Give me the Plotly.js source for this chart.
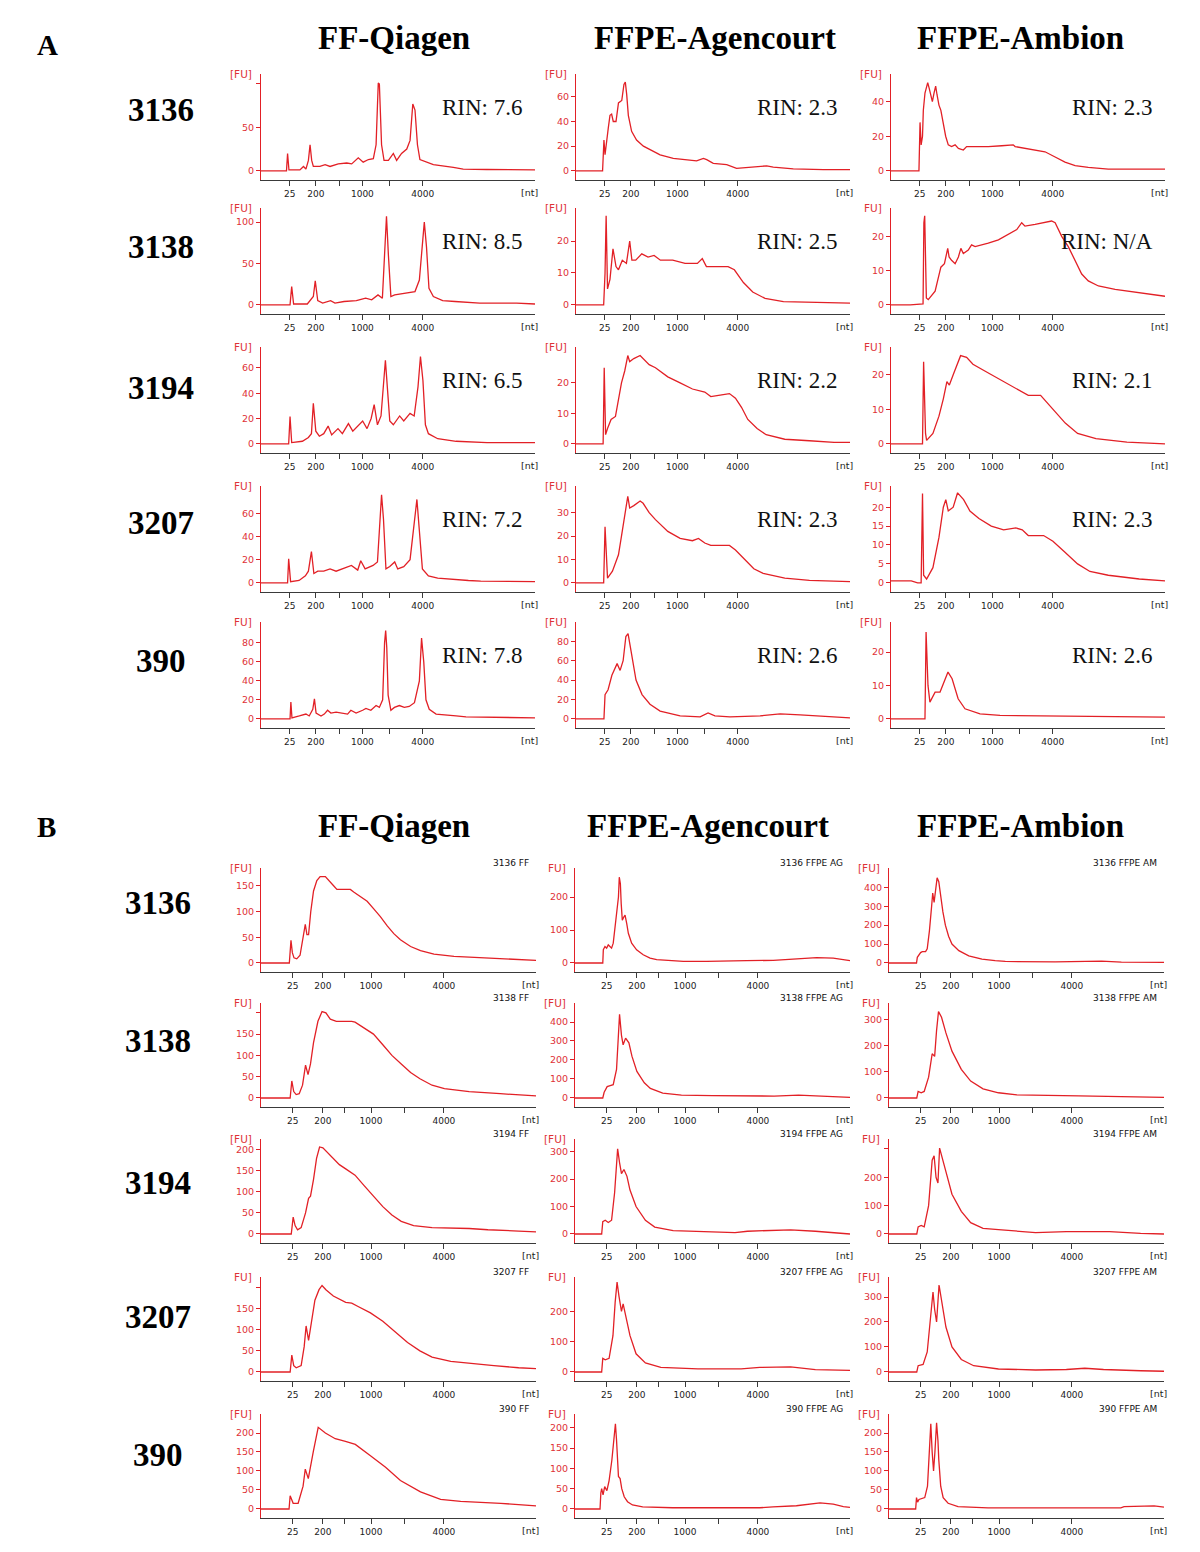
<!DOCTYPE html>
<html><head><meta charset="utf-8">
<script src="https://cdn.plot.ly/plotly-3.0.1.min.js"></script>
<style>body{margin:0;background:#fff}#chart{width:1200px;height:1552px}</style>
</head><body><div id="chart"></div>
<script>
// ---------- labels ----------
const samples = ['3136','3138','3194','3207','390'];
const methods = ['FF-Qiagen','FFPE-Agencourt','FFPE-Ambion'];
const methodCodes = ['FF','FFPE AG','FFPE AM'];
const rinA = [['7.6','2.3','2.3'],['8.5','2.5','N/A'],['6.5','2.2','2.1'],['7.2','2.3','2.3'],['7.8','2.6','2.6']];
const xTickText = ['25','200','','1000','','4000'];
const fuA = [['[FU]','[FU]','[FU]'],['[FU]','[FU]','FU]'],['FU]','[FU]','FU]'],['FU]','[FU]','FU]'],['FU]','[FU]','[FU]']];
const fuB = [['[FU]','FU]','[FU]'],['FU]','[FU]','FU]'],['[FU]','[FU]','FU]'],['FU]','FU]','[FU]'],['[FU]','FU]','[FU]']];

// ---------- y ticks (values / labels) ----------
const yTicksA = [
 [[0,50,100],[0,20,40,60],[0,20,40]],
 [[0,50,100],[0,10,20],[0,10,20]],
 [[0,20,40,60],[0,10,20],[0,10,20]],
 [[0,20,40,60],[0,10,20,30],[0,5,10,15,20]],
 [[0,20,40,60,80],[0,20,40,60,80],[0,10,20]]];
const yTickHiddenA = [[[100],[],[]],[[],[],[]],[[],[],[]],[[],[],[]],[[],[],[]]];
const yTopA = [[111.5,78.5,56],[117,30.4,28.3],[76.5,31.8,28],[83.6,41.4,25.6],[102,100,29]];
const yTicksB = [
 [[0,50,100,150],[0,100,200],[0,100,200,300,400]],
 [[0,50,100,150,200],[0,100,200,300,400],[0,100,200,300]],
 [[0,50,100,150,200],[0,100,200,300],[0,100,200,300]],
 [[0,50,100,150,200],[0,100,200],[0,100,200,300]],
 [[0,50,100,150,200],[0,50,100,150,200],[0,50,100,150,200]]];
const yTickHiddenB = [[[],[],[]],[[200],[],[]],[[],[],[300]],[[200],[],[]],[[],[],[]]];
const yTopB = [[184.6,288,502],[223,500,365],[226,346,335],[225,314,380],[250,234,250]];

// ---------- traces: x = position along axis (%), y = fluorescence [FU] ----------
// A
const a_3136_ff_x=[0,9.3,9.7,10.2,14.2,15.5,16.4,17.3,17.9,18.5,19.1,21.5,23.4,25.2,28.2,31.3,33.1,35.5,37.3,39.2,41.0,42.0,42.5,42.8,43.2,43.6,44.0,44.9,46.5,48.3,49.5,51.3,53.2,54.4,55.4,56.2,57.1,58.0,60.5,62.9,70.2,73.8,82.4,100];
const a_3136_ff_y=[0,0,20,1,1,5,2,12,30,12,5,5,7,5,8,9,8,15,10,13,14,30,75,101,100,70,30,12,12,20,12,20,25,35,77,70,30,13,10,7,4,2,1.5,1];
const a_3136_ag_x=[0,9.7,10.0,10.2,10.6,11.2,11.8,12.4,13.0,13.6,14.6,15.5,16.7,17.5,18.0,18.5,19.1,20.3,22.1,24.6,27.0,30.7,35.5,40.4,44.0,46.5,47.7,50.1,55.0,58.6,65.9,69.6,72.0,79.3,90.3,100];
const a_3136_ag_y=[0,0,15,25,13,22,35,45,46,40,40,55,57,70,72,62,45,32,25,20,17,13,10,9,8,10,9,6,5,2,3,4,3,1.5,1,1];
const a_3136_am_x=[0,10.2,10.6,11.0,11.5,11.8,12.4,13.4,13.9,14.6,15.1,15.7,16.3,16.8,17.5,18.2,19.1,19.95,20.9,22.1,23.4,24.6,26.4,27.6,30.7,35.5,40.4,44.6,45.3,48.9,52.6,56.2,59.9,63.5,67.2,72.0,79.3,100];
const a_3136_am_y=[0,0,28,15,20,35,45,51,48,42,40,45,49,44,38,35,28,20,15,14,15,13,12,14,14,14,14.5,15,14,13,12,11,8,5,3,2,1,1];
const a_3138_ff_x=[0,10.6,11.2,11.9,16.9,19.1,19.8,20.7,22.5,25.4,27.0,30.3,34.8,38.2,40.4,42.7,44.3,45.2,45.8,46.5,47.4,48.8,52.8,56.2,57.8,58.9,59.6,60.4,61.3,62.9,66.3,70.8,79.8,93.3,100];
const a_3138_ff_y=[0,0,22,1,1,10,29,5,2,5,2,4,5,8,6,12,8,60,107,60,10,12,14,16,30,80,100,70,20,10,5,4,2,2,1];
const a_3138_ag_x=[0,10.1,10.6,11.0,11.5,12.4,13.5,14.6,15.5,16.9,18.4,19.6,20.4,21.8,24.0,26.3,28.5,30.8,35.3,39.8,44.3,46.1,47.6,51.0,55.5,57.8,61.1,64.5,69.0,75.7,84.7,93.7,100];
const a_3138_ag_y=[0,0,10,28,5,8,17.6,12,11,14,13,20,14,14,16,15,15.5,14,14,13,13,14.5,12,12,12,11,7,4,2,1,0.8,0.5,0.5];
const a_3138_am_x=[0,7,11.7,12.0,12.3,12.5,12.9,13.6,16.1,17.3,18.2,19.5,20.3,20.7,21.2,22.1,23.4,24.6,25.5,26.4,28.2,29.4,30.7,33.1,35.5,39.2,42.8,45.9,47.7,48.9,52.6,56.2,58.6,59.9,62.3,64.7,67.2,69.6,72.0,75.7,81.8,90.3,100];
const a_3138_am_y=[0,0,0.3,24,26,12,2,1.5,4,8,11,12,15,16.5,14,13,12,14,16.5,15,16,17.5,17,17.5,18,19,20.5,22,24,23,23.5,24,24.5,24,20,17,13,9,7,5.5,4.5,3.5,2.5];
const a_3194_ff_x=[0,10.1,10.6,11.2,15.1,17.3,18.4,19.1,20.0,21.3,22.9,24.5,25.8,28.1,29.7,31.9,33.5,35.3,37.1,38.7,40.2,41.3,42.5,43.8,44.7,45.4,46.1,47.0,48.3,50.6,52.1,54.4,55.9,57.3,58.2,59.1,60.0,61.1,64.5,71.2,82.5,100];
const a_3194_ff_y=[0,0,21.5,1,2,5,8,32,10,6,8,14,7,12,8,16,10,14,18,12,20,31,15,22,45,66,45,18,15,22,18,24,22,45,69,50,15,8,4,2,1,1];
const a_3194_ag_x=[0,9.9,10.3,10.8,11.5,12.8,14.4,15.5,16.6,17.8,18.9,19.6,21.1,23.4,24.5,26.7,29.0,33.5,38.0,42.5,47.0,49.2,52.6,56.0,58.2,60.4,62.7,66.1,69.4,76.2,85.2,94.2,100];
const a_3194_ag_y=[0,0,25,3,5,8,9,15,20,24,29,27,28,29,28,26,25,22,20,18,17,15.5,16,16.5,15,12,8,5,3,1.5,1,0.5,0.5];
const a_3194_am_x=[0,11.5,11.9,12.6,13.0,15.3,17.5,19.1,20.4,21.3,22.7,24.3,25.4,27.6,29.9,34.4,38.9,43.4,47.9,50.1,54.6,56.9,60.2,63.6,68.1,74.8,86.1,100];
const a_3194_am_y=[0,0,23.7,3,1,3,8,13,18,17,20,23,25.5,25,23,21,19,17,15,14,14,12,9,6,3,1.5,0.5,0];
const a_3207_ff_x=[0,9.7,10.1,10.8,13.9,16.2,17.3,18.4,19.3,20.7,22.9,25.2,27.4,30.8,33.0,35.3,36.4,38.0,40.9,42.5,43.4,44.0,44.7,45.6,47.0,48.8,49.9,52.1,54.4,55.9,56.9,57.8,58.9,61.1,64.5,75.7,80.2,100];
const a_3207_ff_y=[0,0,20.7,1,2,6,10,27,8,10,10,12,10,13,15,11,19,12,15,18,50,76,55,12,14,18,12,14,20,50,72,45,12,6,4,2,1.5,1];
const a_3207_ag_x=[0,10.1,10.6,11.0,11.5,13.3,15.5,16.6,17.8,18.9,19.6,21.1,23.4,24.5,26.7,29.0,33.5,38.0,42.5,44.7,47.0,49.2,56.0,58.2,61.6,64.9,68.3,76.2,85.2,100];
const a_3207_ag_y=[0,0,24,15,2,5,12,20,28,37,32,33,35,34,30,27,22,19,18,19,17,16,16,14,10,6,4,2,1,0.5];
const a_3207_am_x=[0,7.4,9.7,11.0,11.5,11.9,13.0,15.3,17.5,19.1,20.0,20.9,22.7,24.3,26.5,28.8,32.1,36.6,41.1,45.6,47.9,50.1,55.7,59.1,63.6,68.1,72.6,79.3,90.6,100];
const a_3207_am_y=[0.5,0.5,0,0,23.6,2,1,4,12,20,22,19,20,23.8,22,19,17,15,14,14.5,14,12.5,12.5,11,8,5,3,2,1,0.5];
const a_390_ff_x=[0,10.6,10.9,11.3,14.0,16.4,17.6,18.9,19.5,20.1,21.9,23.1,24.3,25.5,27.4,29.2,31.6,32.8,34.7,37.1,38.3,40.1,42.0,43.2,44.4,45.1,45.5,45.9,46.4,47.4,48.7,50.5,52.3,54.1,56.0,57.8,58.6,59.4,60.2,61.4,63.9,71.2,74.8,100];
const a_390_ff_y=[0,0,17.7,1,3,5,3,10,21,6,3,5,9,6,7,6,5,9,6,9,11,9,14,12,20,80,93,75,25,9,12,14,12,13,17,40,85,60,20,10,5,3,2,1];
const a_390_ag_x=[0,10.2,10.6,11.7,13.1,15.0,16.1,17.2,18.2,19.0,20.1,21.9,24.1,27.0,30.7,38.0,45.3,48.2,50.7,56.2,67.2,74.5,81.8,92.7,100];
const a_390_ag_y=[0,0,25,30,45,57,50,60,85,88,70,40,25,15,8,3,2,6,3,2,3,5,4,2,1];
const a_390_am_x=[0,12.4,12.8,13.5,14.2,16.1,17.9,19.7,20.8,22.3,24.5,27.0,32.5,39.8,100];
const a_390_am_y=[0,0,26,10,5,8,8,12,14,12,6,3,1.5,1,0.5];
// B
const b_3136_ff_x=[0,10.3,10.9,11.4,12.0,13.0,14.2,15.5,16.1,16.7,17.3,18.1,19.1,20.3,21.5,23.4,24.6,26.4,27.6,30.0,32.5,33.7,36.1,38.6,41.0,43.4,45.9,48.3,50.7,54.4,58.0,62.9,70.2,77.5,82.4,89.7,100];
const b_3136_ff_y=[0,0,44,20,10,8,15,55,75,55,55,100,140,160,168,168,160,150,143,143,143,138,130,120,105,90,72,57,45,32,24,17,13,11,10,8,5];
const b_3136_ag_x=[0,10.1,10.3,10.9,11.5,12.1,12.7,13.3,13.9,14.9,15.8,16.1,16.5,16.8,17.2,17.8,18.2,18.8,19.4,20.6,22.4,24.8,27.3,29.7,35.8,39.4,47.9,60.0,62.4,72.1,81.8,87.9,93.9,97.6,100];
const b_3136_ag_y=[0,0,40,50,45,55,50,45,60,130,200,260,240,180,130,140,145,120,90,60,40,25,15,10,7,5,5,5,7,8,12,16,15,10,7];
const b_3136_am_x=[0,10.0,10.3,10.9,11.5,12.1,13.3,13.9,14.7,15.5,15.9,16.4,16.9,17.5,18.1,18.7,19.6,20.5,21.7,22.9,25.4,29.0,33.8,38.6,42.3,60.4,71.3,72.5,77.3,84.5,100];
const b_3136_am_y=[0,0,30,45,55,60,60,75,170,300,370,320,380,450,430,360,270,200,140,100,65,38,20,12,8,6,8,12,10,5,3];
const b_3138_ff_x=[0,10.6,11.2,11.9,12.8,13.9,15.1,16.2,17.1,18.0,19.1,20.7,22.2,23.6,25.2,27.4,30.8,33.0,34.2,37.5,40.9,44.3,47.6,51.0,54.4,57.8,62.2,66.7,75.7,87.0,93.7,100];
const b_3138_ff_y=[0,0,40,15,8,10,30,77,55,80,130,180,203,200,185,180,180,180,178,165,150,125,100,80,60,45,30,22,15,10,7,5];
const b_3138_ag_x=[0,10.1,10.6,11.7,12.8,13.9,15.1,15.7,16.2,16.9,17.5,18.4,19.6,20.7,22.5,25.2,27.4,31.9,38.7,49.9,72.4,81.3,92.6,100];
const b_3138_ag_y=[0,0,30,60,65,70,150,300,440,330,280,315,290,220,140,80,50,25,15,12,10,15,8,3];
const b_3138_am_x=[0,10.1,10.6,11.7,12.8,14.4,15.7,16.6,17.3,18.0,19.1,20.7,22.9,26.3,29.7,34.2,39.8,46.5,69.0,82.5,100];
const b_3138_am_y=[0,0,25,20,25,80,170,160,260,332,310,250,180,110,65,35,20,12,8,5,2];
const b_3194_ff_x=[0,11.0,11.7,12.4,13.3,14.6,16.2,17.3,18.0,19.1,20.2,21.3,22.5,24.0,26.3,28.5,30.8,34.2,37.5,40.9,44.3,47.6,51.0,55.5,62.2,75.7,82.5,93.7,100];
const b_3194_ff_y=[0,0,40,20,10,15,50,85,90,130,180,207,205,195,180,165,155,140,115,90,65,45,30,20,15,13,10,7,5];
const b_3194_ag_x=[0,9.7,10.1,11.0,12.1,13.3,14.4,15.1,15.5,16.2,16.9,17.8,18.9,20.0,22.2,25.6,29.0,35.7,49.2,58.2,62.7,78.4,87.4,100];
const b_3194_ag_y=[0,0,45,50,42,50,150,250,310,260,220,235,210,160,100,50,25,12,8,5,10,15,10,0];
const b_3194_am_x=[0,10.1,10.6,11.7,12.8,14.4,15.7,16.4,17.1,17.8,18.4,19.1,20.7,22.9,26.3,29.7,34.2,39.8,48.8,53.3,64.5,80.2,91.5,100];
const b_3194_am_y=[0,0,25,30,25,100,260,276,200,180,303,280,220,140,80,40,20,15,10,5,8,8,2,0];
const b_3207_ff_x=[0,10.6,11.2,11.9,12.8,14.6,15.7,16.4,17.3,18.4,19.6,21.1,22.2,23.6,26.3,30.8,33.0,35.3,39.8,44.3,48.8,53.3,57.8,62.2,69.0,75.7,84.7,93.7,100];
const b_3207_ff_y=[0,0,40,15,10,15,60,109,75,120,170,195,205,195,180,165,163,155,140,120,95,70,50,35,25,20,15,10,8];
const b_3207_ag_x=[0,9.7,10.1,11.0,12.4,13.8,14.6,15.3,16.0,16.9,17.5,18.4,20.0,22.2,25.6,31.2,44.7,60.4,67.2,78.4,87.4,100];
const b_3207_ag_y=[0,0,45,40,45,120,230,297,250,200,225,190,120,60,30,15,10,10,15,17,8,5];
const b_3207_am_x=[0,10.1,10.6,12.4,13.9,15.1,16.0,16.6,17.3,18.2,19.1,20.7,22.9,26.3,30.8,39.8,53.3,64.5,71.2,78.0,91.5,100];
const b_3207_am_y=[0,0,25,30,80,220,320,250,200,348,280,180,100,50,25,12,8,10,15,10,5,3];
const b_390_ff_x=[0,10.2,10.6,11.7,13.5,15.3,16.1,17.2,19.0,20.8,23.4,27.0,30.7,34.3,39.8,45.3,50.7,58.0,65.3,72.6,87.2,100];
const b_390_ff_y=[0,0,35,15,15,60,105,80,150,215,200,185,178,170,140,110,75,45,25,20,15,8];
const b_390_ag_x=[0,9.1,9.4,9.7,10.2,10.8,11.6,12.4,13.4,14.2,14.7,15.1,15.5,15.8,16.4,17.0,17.9,19.1,20.9,24.6,35.5,67.2,72.0,80.5,89.1,93.9,97.6,100];
const b_390_ag_y=[0,0,40,50,35,55,45,70,120,180,210,170,120,80,75,50,30,18,10,5,3,3,5,8,15,12,6,4];
const b_390_am_x=[0,9.7,10.0,10.4,10.9,11.8,13.0,14.0,14.7,15.2,15.7,16.2,16.7,17.3,17.8,18.1,18.8,19.7,21.5,25.1,36.0,84.3,85.5,91.5,96.4,100];
const b_390_am_y=[0,0,30,18,25,28,30,60,150,224,150,100,150,227,180,130,60,30,15,6,3,3,6,8,8,5];

const seriesA = [
 [[a_3136_ff_x,a_3136_ff_y],[a_3136_ag_x,a_3136_ag_y],[a_3136_am_x,a_3136_am_y]],
 [[a_3138_ff_x,a_3138_ff_y],[a_3138_ag_x,a_3138_ag_y],[a_3138_am_x,a_3138_am_y]],
 [[a_3194_ff_x,a_3194_ff_y],[a_3194_ag_x,a_3194_ag_y],[a_3194_am_x,a_3194_am_y]],
 [[a_3207_ff_x,a_3207_ff_y],[a_3207_ag_x,a_3207_ag_y],[a_3207_am_x,a_3207_am_y]],
 [[a_390_ff_x,a_390_ff_y],[a_390_ag_x,a_390_ag_y],[a_390_am_x,a_390_am_y]]];
const seriesB = [
 [[b_3136_ff_x,b_3136_ff_y],[b_3136_ag_x,b_3136_ag_y],[b_3136_am_x,b_3136_am_y]],
 [[b_3138_ff_x,b_3138_ff_y],[b_3138_ag_x,b_3138_ag_y],[b_3138_am_x,b_3138_am_y]],
 [[b_3194_ff_x,b_3194_ff_y],[b_3194_ag_x,b_3194_ag_y],[b_3194_am_x,b_3194_am_y]],
 [[b_3207_ff_x,b_3207_ff_y],[b_3207_ag_x,b_3207_ag_y],[b_3207_am_x,b_3207_am_y]],
 [[b_390_ff_x,b_390_ff_y],[b_390_ag_x,b_390_ag_y],[b_390_am_x,b_390_am_y]]];

// ---------- geometry ----------
const W = 1200, H = 1552;
const RED = 'rgb(226,32,38)';
const LABRED = 'rgb(222,50,55)';
const geo = {
  A: {cols:[261,576,891], bottoms:[180,314,453,592,728], h:106, w:274, ticks:[10.5,20,28.5,37,47,59]},
  B: {cols:[261,575,889], bottoms:[972,1107,1243,1381,1518], h:104, w:275, ticks:[11.5,22.5,30.5,40,52,66.5]}
};

const traces = [];
const layout = {
  width: W, height: H, margin:{l:0,r:0,t:0,b:0},
  paper_bgcolor:'#fff', plot_bgcolor:'#fff', showlegend:false, hovermode:false,
  annotations: []
};
const serif = 'Liberation Serif, Times New Roman, serif';
const sans = 'DejaVu Sans, Verdana, sans-serif';

let n = 0;
['A','B'].forEach(sec => {
  const g = geo[sec];
  const series = sec === 'A' ? seriesA : seriesB;
  const yT = sec === 'A' ? yTicksA : yTicksB;
  const yHid = sec === 'A' ? yTickHiddenA : yTickHiddenB;
  const yTop = sec === 'A' ? yTopA : yTopB;
  const fu = sec === 'A' ? fuA : fuB;
  for (let r = 0; r < 5; r++) {
    for (let c = 0; c < 3; c++) {
      n++;
      const xs = n === 1 ? '' : String(n);
      const x0 = g.cols[c], bot = g.bottoms[r];
      traces.push({
        x: series[r][c][0], y: series[r][c][1], type:'scatter', mode:'lines',
        line:{color:RED, width:1.3}, xaxis:'x'+xs, yaxis:'y'+xs, hoverinfo:'skip'
      });
      layout['xaxis'+xs] = {
        domain:[x0/W, (x0+g.w)/W], anchor:'y'+xs, range:[0,100],
        tickmode:'array', tickvals:g.ticks, ticktext:xTickText,
        showline:true, linecolor:'#3a3a3a', linewidth:1, mirror:false,
        ticks:'outside', ticklen:5, tickcolor:'#3a3a3a', tickwidth:1,
        tickfont:{family:sans, size:9, color:'#222'},
        showgrid:false, zeroline:false, fixedrange:true
      };
      const top = yTop[r][c];
      const tv = yT[r][c];
      layout['yaxis'+xs] = {
        domain:[1-bot/H, 1-(bot-g.h)/H], anchor:'x'+xs, range:[-top*0.095, top],
        tickmode:'array', tickvals:tv,
        ticktext: tv.map(v => yHid[r][c].includes(v) ? '' : String(v)),
        showline:true, linecolor:RED, linewidth:1,
        ticks:'outside', ticklen:4, tickcolor:RED, tickwidth:1,
        tickfont:{family:sans, size:9.5, color:LABRED},
        showgrid:false, zeroline:false, fixedrange:true
      };
      const xr = 'x'+xs+' domain', yr = 'y'+xs+' domain';
      layout.annotations.push({xref:xr, yref:yr, x:0, y:1, xanchor:'right', yanchor:'middle',
        xshift:-7, text:fu[r][c], showarrow:false, font:{family:sans, size:10.5, color:LABRED}});
      layout.annotations.push({xref:xr, yref:yr, x:1, y:0, xanchor:'right', yanchor:'top',
        xshift:5, yshift:-5, text:'[nt]', showarrow:false, font:{family:sans, size:9.5, color:'#222'}});
      if (sec === 'A') {
        layout.annotations.push({xref:xr, yref:yr, x:0.965, y:0.68, xanchor:'right', yanchor:'middle',
          text:'RIN: '+rinA[r][c], showarrow:false, font:{family:serif, size:23, color:'#111'}});
      } else {
        layout.annotations.push({xref:xr, yref:yr, x:0.982, y:1, xanchor:'right', yanchor:'bottom',
          yshift:-2, text:samples[r]+' '+methodCodes[c], showarrow:false, font:{family:sans, size:9, color:'#111'}});
      }
    }
  }
});

// headings, row labels, section letters
const headX = {A:[394,715,1020], B:[394,708,1020]};
const headY = {A:38, B:826};
const rowLabelX = {A:161, B:158};
const rowLabelY = {A:[110,247,388,523,661], B:[903,1041,1183,1317,1455]};
const secPos = {A:[47,45], B:[46,827]};
['A','B'].forEach(sec => {
  methods.forEach((m,i) => layout.annotations.push({xref:'paper', yref:'paper',
    x:headX[sec][i]/W, y:1-headY[sec]/H, xanchor:'center', yanchor:'middle', text:'<b>'+m+'</b>',
    showarrow:false, font:{family:serif, size:33, color:'#000'}}));
  samples.forEach((s,i) => layout.annotations.push({xref:'paper', yref:'paper',
    x:rowLabelX[sec]/W, y:1-rowLabelY[sec][i]/H, xanchor:'center', yanchor:'middle', text:'<b>'+s+'</b>',
    showarrow:false, font:{family:serif, size:33, color:'#000'}}));
  layout.annotations.push({xref:'paper', yref:'paper', x:secPos[sec][0]/W, y:1-secPos[sec][1]/H,
    xanchor:'center', yanchor:'middle', text:'<b>'+sec+'</b>', showarrow:false,
    font:{family:serif, size:29, color:'#000'}});
});

Plotly.newPlot('chart', traces, layout, {staticPlot:true, displayModeBar:false});
</script>
</body></html>
